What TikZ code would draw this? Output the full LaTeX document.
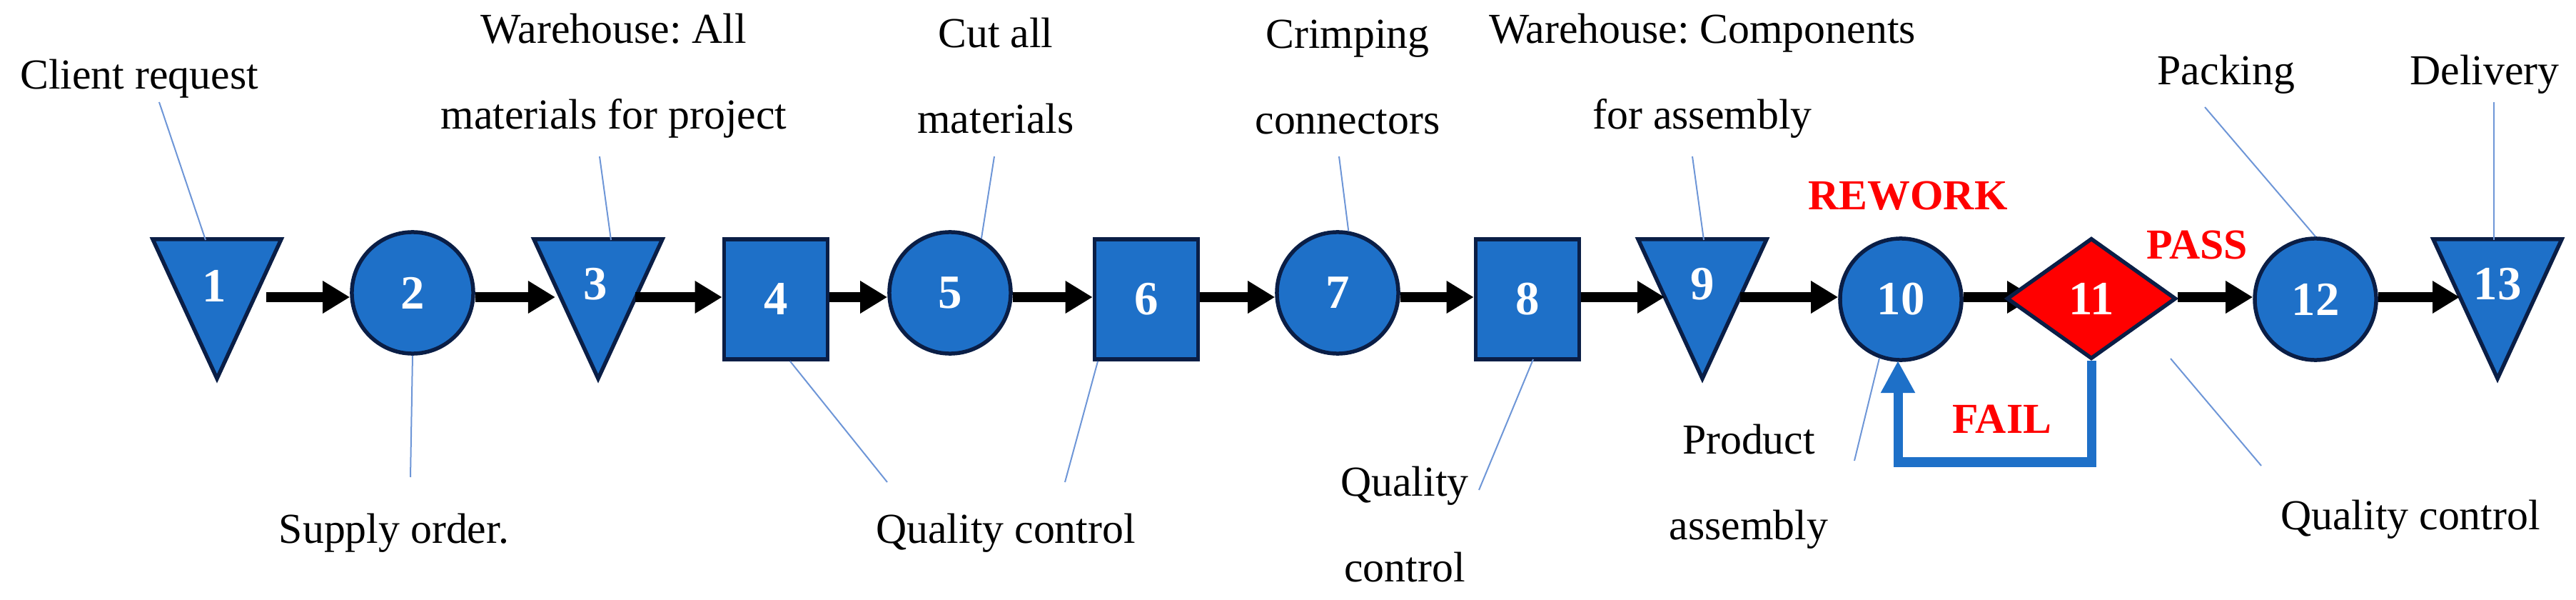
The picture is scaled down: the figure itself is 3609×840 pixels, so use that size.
\documentclass[tikz,border=0pt]{standalone}
\usepackage{fontspec}
\setmainfont{Liberation Serif}
\usetikzlibrary{shapes.geometric,arrows.meta}
\definecolor{fillb}{RGB}{30,112,200}
\definecolor{navy}{RGB}{10,30,70}
\definecolor{leadc}{RGB}{110,150,215}
\frenchspacing
\begin{document}
\begin{tikzpicture}[x=0.01cm,y=-0.01cm,
  lbl/.style={font=\fontsize{17}{22}\selectfont,inner sep=0,align=center},
  num/.style={font=\fontsize{19}{22}\selectfont\bfseries,text=white,inner sep=0},
  circ/.style={ellipse,draw=navy,fill=fillb,line width=0.055cm,minimum width=1.7cm,minimum height=1.7cm,num},
  sq/.style={rectangle,draw=navy,fill=fillb,line width=0.055cm,minimum width=1.45cm,minimum height=1.68cm,num},
  tri/.style={draw=navy,fill=fillb,line width=0.055cm,line join=miter},
  flow/.style={line width=0.13cm,-{Triangle[length=0.38cm,width=0.43cm]}},
  lead/.style={leadc,line width=0.02cm},
  red/.style={font=\fontsize{17}{20}\selectfont\bfseries,text=red,inner sep=0}]
\useasboundingbox (0,0) rectangle (3609,840);
% triangles
\foreach \n/\cx in {1/304,3/838,9/2385,13/3499}{
  \draw[tri] (\cx-90,335) -- (\cx+90,335) -- (\cx,530) -- cycle;
}
\node[num] (t1) at (300,400) {1};
\node[num] (t3) at (834,398) {3};
\node[num] (t9) at (2385,398) {9};
\node[num] (t13) at (3499,398) {13};
\node[circ] (c2) at (578,410) {2};
\node[sq] (s4) at (1087,419) {4};
\node[circ] (c5) at (1331,410) {5};
\node[sq] (s6) at (1606,419) {6};
\node[circ] (c7) at (1874,410) {7};
\node[sq] (s8) at (2140,419) {8};
\node[circ] (c10) at (2663,419) {10};
\node[circ] (c12) at (3244,419) {12};
% arrow anchor coordinates at triangle edges
\coordinate (t1e) at (373,416);
\coordinate (t3w) at (778,416);
\coordinate (t3e) at (890,416);
\coordinate (t9w) at (2332,416);
\coordinate (t9e) at (2438,416);
\coordinate (t13w) at (3446,416);
\draw[flow] (t1e) -- (c2.west |- t1e);
\draw[flow] (c2.east |- t1e) -- (t3w);
\draw[flow] (t3e) -- (s4.west |- t3e);
\draw[flow] (s4.east |- t3e) -- (c5.west |- t3e);
\draw[flow] (c5.east |- t3e) -- (s6.west |- t3e);
\draw[flow] (s6.east |- t3e) -- (c7.west |- t3e);
\draw[flow] (c7.east |- t3e) -- (s8.west |- t3e);
\draw[flow] (s8.east |- t3e) -- (t9w);
\draw[flow] (t9e) -- (c10.west |- t9e);
\draw[flow] (c10.east |- t9e) -- (2850,416);
\node[diamond,draw=navy,fill=red,line width=0.055cm,minimum width=2.37cm,minimum height=1.69cm,inner sep=0,num] (d11) at (2930,418) {11};
\draw[flow] (d11.east |- t9e) -- (c12.west |- t9e);
\draw[flow] (c12.east |- t9e) -- (t13w);
% fail loop
\coordinate (f1) at (2930,647);
\coordinate (f2) at (2659,647);
\coordinate (f3) at (2659,505);
\draw[fillb,line width=0.13cm,-{Triangle[length=0.45cm,width=0.45cm]}] (d11.south) -- (f1) -- (f2) -- (f3);
\node[red] (rw) at (2673,274) {REWORK};
\node[red] (ps) at (3078,343) {PASS};
\node[red] (fl) at (2805,587) {FAIL};
% labels top
\node[lbl] (l1) at (195,110) {Client request};
\node[lbl] (l3) at (860,106) {Warehouse: All\\[12pt]materials for project};
\node[lbl] (l5) at (1395,106) {Cut all\\[12pt]materials};
\node[lbl] (l7) at (1888,108) {Crimping\\[12pt]connectors};
\node[lbl] (l9) at (2385,106) {Warehouse: Components\\[12pt]for assembly};
\node[lbl] (l12) at (3119,104) {Packing};
\node[lbl] (l13) at (3481,104) {Delivery};
% labels bottom
\node[lbl] (l2) at (552,746) {Supply order.};
\node[lbl] (l46) at (1409,746) {Quality control};
\node[lbl] (l8) at (1968,734) {Quality\\[12pt]control};
\node[lbl] (l10) at (2450,681) {Product\\[12pt]assembly};
\node[lbl] (l11) at (3377,727) {Quality control};
% leaders
\coordinate (a1) at (223,143); \draw[lead] (a1) -- (288,336);
\coordinate (a3) at (840,219); \draw[lead] (a3) -- (856,336);
\coordinate (a5) at (1393,219); \draw[lead] (a5) -- (c5.60);
\coordinate (a7) at (1876,219); \draw[lead] (a7) -- (c7.80);
\coordinate (a9) at (2371,219); \draw[lead] (a9) -- (2387,336);
\coordinate (a12) at (3089,150); \draw[lead] (a12) -- (c12.north);
\coordinate (a13) at (3494,143); \draw[lead] (a13) -- (3494,336);
\coordinate (b2) at (575,668); \draw[lead] (c2.south) -- (b2);
\coordinate (b4) at (1243,675); \draw[lead] (s4.south) ++(20,0) -- (b4);
\coordinate (b6) at (1492,675); \draw[lead] (s6.south) ++(-68,0) -- (b6);
\coordinate (b8) at (2072,686); \draw[lead] (2148,503) -- (b8);
\coordinate (b10) at (2598,645); \draw[lead] (c10.250) -- (b10);
\coordinate (b11) at (3168,652); \draw[lead] (3041,502) -- (b11);
\end{tikzpicture}
\end{document}
